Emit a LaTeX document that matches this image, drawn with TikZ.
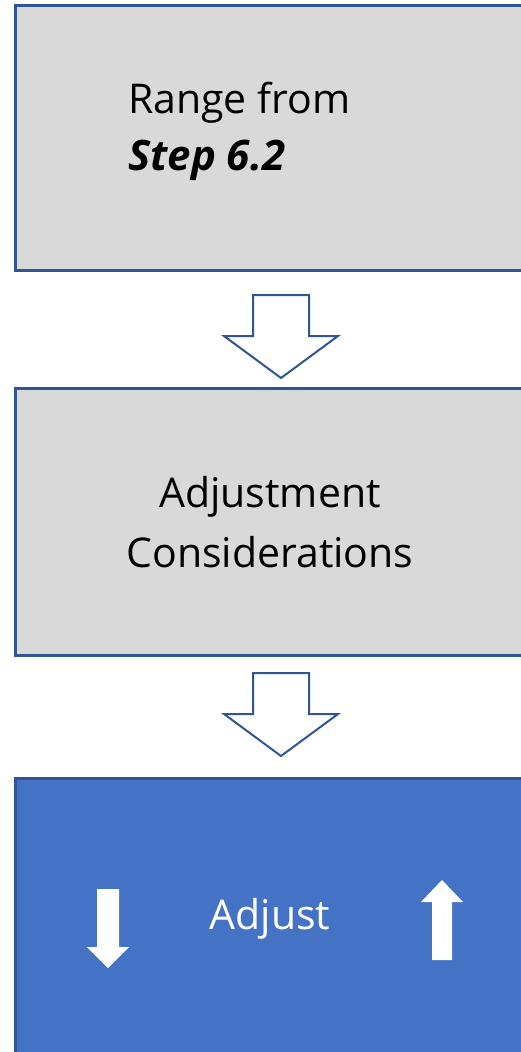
\documentclass[tikz,border=0pt]{standalone}
\usepackage{fontspec}
\setmainfont{Open Sans}
\usetikzlibrary{calc}
\usetikzlibrary{positioning}
\definecolor{stagegray}{HTML}{D9D9D9}
\definecolor{stageline}{HTML}{2F5597}
\definecolor{adjustblue}{HTML}{4472C4}

\begin{document}
\begin{tikzpicture}[x=1pt, y=-1pt,
    stage/.style={draw=stageline, line width=3pt, fill=stagegray,
      minimum width=510pt, inner sep=0pt, align=center,
      font=\fontsize{41}{60}\selectfont},
    stagetext/.style={anchor=base west, inner sep=0pt,
      font=\fontsize{41}{57}\selectfont},
    hollowarrow/.style={draw=stageline, line width=2pt, fill=white,
      line join=miter},
    whitearrow/.style={fill=white}]

      \useasboundingbox (0,0) rectangle (521,1052);
      \clip (0,0) rectangle (521,1052);

      % the three stages
      \node [stage, minimum height=265pt] (range) at (270,137.5) {};
      \node [stage, minimum height=267pt] (consider) at (270,522)
      {Adjustment\\Considerations};
      \node [stage, minimum height=282pt, fill=adjustblue, text=white]
      (adjust) at (270,919) {Adjust};

      \node [stagetext] (rangetxt) at (128,113) {Range from};
      \node [stagetext, font=\fontsize{42}{57}\selectfont\bfseries\itshape]
      (steptxt) at (128,170) {Step 6.2};

      % hollow arrows between the stages
      \coordinate (arrowA) at (281,295);
      \coordinate (arrowB) at (281,673);
      \foreach \a in {arrowA, arrowB}
      \draw [hollowarrow] (\a) ++(-28,0) -- ++(56,0) -- ++(0,41)
      -- ++(29,0) -- ++(-57,42) -- ++(-57,-42) -- ++(29,0) -- cycle;

      % down and up arrows in the last stage
      \coordinate (downtop) at (108,889);
      \coordinate (upfoot) at (442,960);
      \fill [whitearrow] (downtop) ++(-11,0) -- ++(22,0) -- ++(0,58)
      -- ++(10,0) -- ++(-21,21) -- ++(-21,-21) -- ++(10,0) -- cycle;
      \fill [whitearrow] (upfoot) ++(-10,0) -- ++(20,0) -- ++(0,-58)
      -- ++(11,0) -- ++(-21,-22) -- ++(-21,22) -- ++(11,0) -- cycle;

    \end{tikzpicture}
\end{document}
